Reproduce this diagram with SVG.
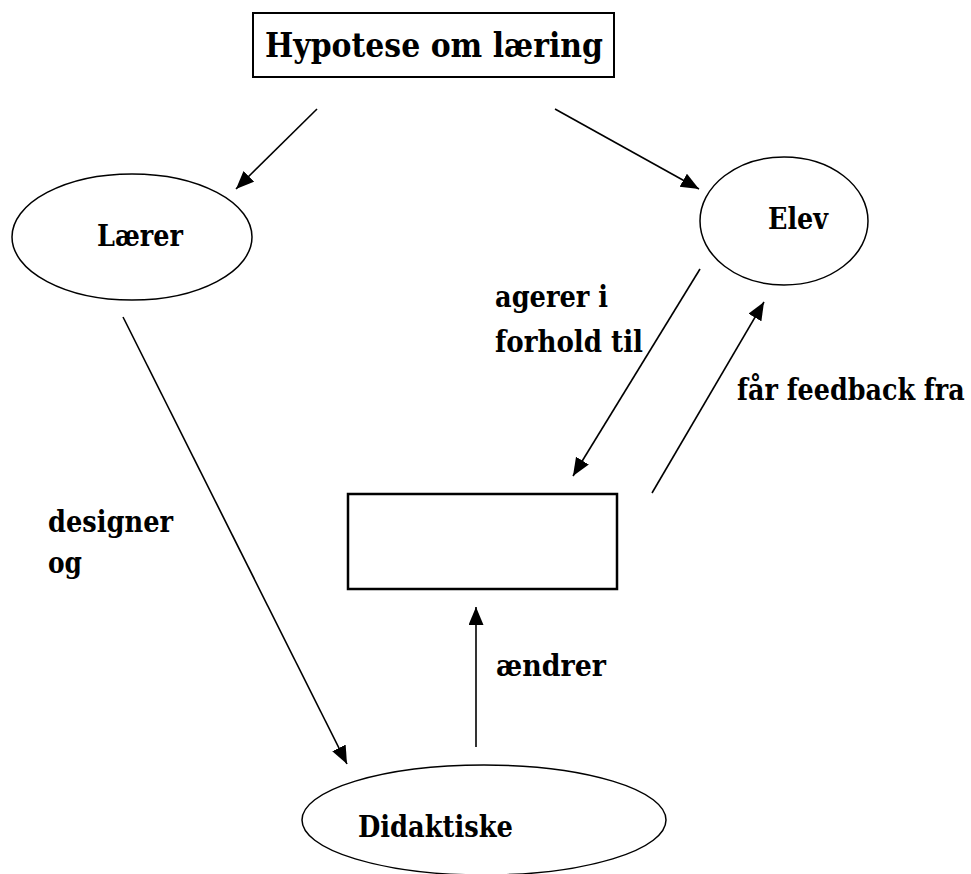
<svg xmlns="http://www.w3.org/2000/svg" width="971" height="874" viewBox="0 0 971 874">
<style>
.t{font-family:"DejaVu Serif","Liberation Serif",serif;font-weight:bold;font-size:29px;fill:#000}
.big{font-size:33px}
.shape{fill:#fff;stroke:#000}
.c{stroke:#000;stroke-width:1.6;fill:none}
</style>
<defs>
<marker id="ah" markerUnits="userSpaceOnUse" markerWidth="20" markerHeight="16" refX="18" refY="7.5" orient="auto">
<path d="M0,0 L18,7.5 L0,15 Z" fill="#000"/>
</marker>
</defs>
<rect width="971" height="874" fill="#fff"/>
<g id="title">
<rect class="shape" x="253" y="13" width="361" height="64" stroke-width="2"/>
<text class="t big" x="265" y="57" textLength="338" lengthAdjust="spacingAndGlyphs">Hypotese om læring</text>
</g>
<g id="laerer">
<ellipse class="shape" cx="132" cy="237" rx="120" ry="63" stroke-width="1.5"/>
<text class="t" x="97" y="246" textLength="86" lengthAdjust="spacingAndGlyphs">Lærer</text>
</g>
<g id="elev">
<ellipse class="shape" cx="784" cy="221" rx="84" ry="64" stroke-width="1.5"/>
<text class="t" x="768" y="229" textLength="60" lengthAdjust="spacingAndGlyphs">Elev</text>
</g>
<g id="box">
<rect class="shape" x="348" y="494" width="269" height="95" stroke-width="2.5"/>
</g>
<g id="didaktiske">
<ellipse class="shape" cx="484" cy="820" rx="182" ry="55" stroke-width="1.5"/>
<text class="t" x="358" y="837" textLength="155" lengthAdjust="spacingAndGlyphs">Didaktiske</text>
</g>
<g id="connectors">
<line class="c" x1="317" y1="109" x2="236" y2="189" marker-end="url(#ah)"/>
<line class="c" x1="555" y1="109" x2="699" y2="189" marker-end="url(#ah)"/>
<line class="c" x1="123" y1="317" x2="347" y2="764" stroke-width="1.2" marker-end="url(#ah)"/>
<line class="c" x1="700" y1="269" x2="573" y2="476" marker-end="url(#ah)"/>
<line class="c" x1="652" y1="493" x2="764" y2="302" marker-end="url(#ah)"/>
<line class="c" x1="476" y1="747" x2="476" y2="607" marker-end="url(#ah)"/>
</g>
<g id="labels">
<text class="t" x="495" y="307" textLength="113" lengthAdjust="spacingAndGlyphs">agerer i</text>
<text class="t" x="495" y="352" textLength="148" lengthAdjust="spacingAndGlyphs">forhold til</text>
<text class="t" transform="translate(737,400) scale(0.84,1)" x="0" y="0" textLength="271" lengthAdjust="spacingAndGlyphs">får feedback fra</text>
<text class="t" x="48" y="532" textLength="125" lengthAdjust="spacingAndGlyphs">designer</text>
<text class="t" x="48" y="573" textLength="34" lengthAdjust="spacingAndGlyphs">og</text>
<text class="t" x="496" y="676" textLength="110" lengthAdjust="spacingAndGlyphs">ændrer</text>
</g>
</svg>
